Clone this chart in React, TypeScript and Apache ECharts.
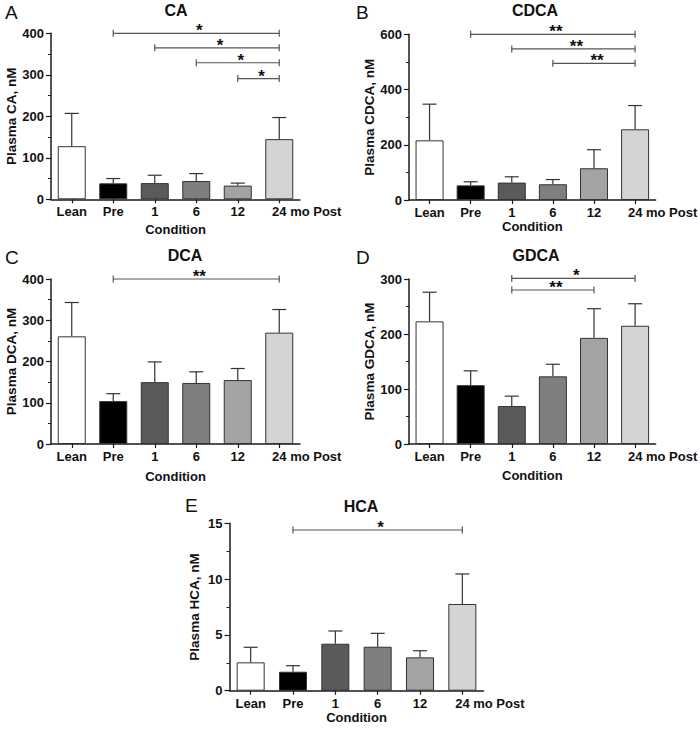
import React, { useEffect, useRef } from "react";
import * as echarts from "echarts";

const FONT = '"Liberation Sans", Arial, Helvetica, sans-serif';

const categories = ["Lean", "Pre", "1", "6", "12", "24 mo Post"];
const barColors = ["#ffffff", "#000000", "#5a5a5a", "#7f7f7f", "#a3a3a3", "#d4d4d4"];

// Means and upper error-bar ends (mean + SEM)
const caMean = [128, 38.5, 39, 44, 33, 145];
const caUpper = [207, 50, 58, 62, 39, 197];
const cdcaMean = [216, 53, 63, 57, 115, 256];
const cdcaUpper = [347, 66, 84, 74, 182, 342];
const dcaMean = [261, 104, 150, 148, 155, 270];
const dcaUpper = [343, 122, 199, 175, 183, 326];
const gdcaMean = [223, 107, 69, 123, 193, 215];
const gdcaUpper = [276, 133, 87, 145, 246, 255];
const hcaMean = [2.54, 1.7, 4.21, 3.94, 2.99, 7.77];
const hcaUpper = [3.89, 2.24, 5.35, 5.14, 3.58, 10.46];

// Significance brackets: [fromIndex, toIndex, yValue]
const caBrackets = [[1, 5, 400], [2, 5, 365], [3, 5, 329], [4, 5, 291]];
const caStars = ["*", "*", "*", "*"];
const cdcaBrackets = [[1, 5, 600], [2, 5, 547], [3, 5, 495]];
const cdcaStars = ["**", "**", "**"];
const dcaBrackets = [[1, 5, 400]];
const dcaStars = ["**"];
const gdcaBrackets = [[2, 5, 301], [2, 4, 280]];
const gdcaStars = ["*", "**"];
const hcaBrackets = [[1, 5, 14.4]];
const hcaStars = ["*"];

const panels = [
  { letter: "A", title: "CA", yName: "Plasma CA, nM", max: 400, interval: 100, mean: caMean, upper: caUpper, brackets: caBrackets, stars: caStars,
    grid: { left: 51, top: 33.3, width: 249, height: 166 }, letterPos: [5, 3], titlePos: [176, 10], yGap: 30, xGap: 24 },
  { letter: "B", title: "CDCA", yName: "Plasma CDCA, nM", max: 600, interval: 200, mean: cdcaMean, upper: cdcaUpper, brackets: cdcaBrackets, stars: cdcaStars,
    grid: { left: 409, top: 34.3, width: 250, height: 165.7 }, letterPos: [356, 3], titlePos: [535, 10], yGap: 28, xGap: 17 },
  { letter: "C", title: "DCA", yName: "Plasma DCA, nM", max: 400, interval: 100, mean: dcaMean, upper: dcaUpper, brackets: dcaBrackets, stars: dcaStars,
    grid: { left: 51, top: 279, width: 249, height: 165 }, letterPos: [5, 248], titlePos: [185, 255], yGap: 30, xGap: 26 },
  { letter: "D", title: "GDCA", yName: "Plasma GDCA, nM", max: 300, interval: 100, mean: gdcaMean, upper: gdcaUpper, brackets: gdcaBrackets, stars: gdcaStars,
    grid: { left: 409, top: 279, width: 250, height: 165 }, letterPos: [356, 248], titlePos: [536, 255], yGap: 28, xGap: 25 },
  { letter: "E", title: "HCA", yName: "Plasma HCA, nM", max: 15, interval: 5, mean: hcaMean, upper: hcaUpper, brackets: hcaBrackets, stars: hcaStars,
    grid: { left: 229.5, top: 523.3, width: 254, height: 167.4 }, letterPos: [185, 496], titlePos: [361, 506], yGap: 28, xGap: 17 },
];

const AXIS_COLOR = "#1a1a1a";
const TEXT_COLOR = "#111";

function buildOption() {
  const grid: any[] = [];
  const xAxis: any[] = [];
  const yAxis: any[] = [];
  const series: any[] = [];
  const graphic: any[] = [];

  panels.forEach((p, k) => {
    grid.push({ ...p.grid, containLabel: false });
    xAxis.push({
      type: "category",
      gridIndex: k,
      data: categories,
      name: "Condition",
      nameLocation: "middle",
      nameGap: p.xGap,
      nameTextStyle: { fontFamily: FONT, fontWeight: "bold", fontSize: 13, color: TEXT_COLOR },
      axisLine: { lineStyle: { color: AXIS_COLOR, width: 1.5 } },
      axisTick: { show: true, alignWithLabel: true, length: 4, lineStyle: { color: AXIS_COLOR, width: 1.2 } },
      axisLabel: {
        margin: 6,
        fontFamily: FONT,
        fontWeight: "bold",
        fontSize: 13,
        color: TEXT_COLOR,
        interval: 0,
        formatter: (v: string) => (v === "24 mo Post" ? "{p|24 mo Post}" : v),
        rich: { p: { padding: [0, 0, 0, 55], fontFamily: FONT, fontWeight: "bold", fontSize: 13, color: TEXT_COLOR } },
      },
      splitLine: { show: false },
    });
    yAxis.push({
      type: "value",
      gridIndex: k,
      min: 0,
      max: p.max,
      interval: p.interval,
      name: p.yName,
      nameLocation: "middle",
      nameGap: p.yGap,
      nameRotate: 90,
      nameTextStyle: { fontFamily: FONT, fontWeight: "bold", fontSize: 13.5, color: TEXT_COLOR },
      axisLine: { show: true, lineStyle: { color: AXIS_COLOR, width: 1.5 } },
      axisTick: { show: true, length: 5, lineStyle: { color: AXIS_COLOR, width: 1.2 } },
      minorTick: { show: true, splitNumber: 2, length: 3, lineStyle: { color: AXIS_COLOR, width: 1 } },
      axisLabel: { margin: 7, fontFamily: FONT, fontWeight: "bold", fontSize: 13, color: TEXT_COLOR },
      splitLine: { show: false },
    });
    series.push({
      type: "bar",
      xAxisIndex: k,
      yAxisIndex: k,
      barWidth: 28,
      data: p.mean.map((v, i) => ({
        value: v,
        itemStyle: { color: barColors[i], borderColor: "#333", borderWidth: 1 },
      })),
      z: 2,
    });
    series.push({
      type: "custom",
      xAxisIndex: k,
      yAxisIndex: k,
      data: p.mean.map((v, i) => [i, v, p.upper[i]]),
      encode: { x: 0, y: 2 },
      z: 3,
      renderItem: (params: any, api: any) => {
        const i = api.value(0);
        const base = api.coord([i, api.value(1)]);
        const top = api.coord([i, api.value(2)]);
        const st = { stroke: "#333", lineWidth: 1.2 };
        return {
          type: "group",
          children: [
            { type: "line", shape: { x1: base[0], y1: base[1], x2: top[0], y2: top[1] }, style: st },
            { type: "line", shape: { x1: top[0] - 7, y1: top[1], x2: top[0] + 7, y2: top[1] }, style: st },
          ],
        };
      },
    });
    series.push({
      type: "custom",
      xAxisIndex: k,
      yAxisIndex: k,
      clip: false,
      data: p.brackets.map((b) => [b[0], b[1], b[2]]),
      encode: { x: [0, 1], y: 2 },
      z: 4,
      renderItem: (params: any, api: any) => {
        const a = api.coord([api.value(0), api.value(2)]);
        const b = api.coord([api.value(1), api.value(2)]);
        const st = { stroke: "#555", lineWidth: 1.2 };
        const label = p.stars[params.dataIndex];
        return {
          type: "group",
          children: [
            { type: "line", shape: { x1: a[0], y1: a[1], x2: b[0], y2: b[1] }, style: st },
            { type: "line", shape: { x1: a[0], y1: a[1] - 3.5, x2: a[0], y2: a[1] + 3.5 }, style: st },
            { type: "line", shape: { x1: b[0], y1: b[1] - 3.5, x2: b[0], y2: b[1] + 3.5 }, style: st },
            {
              type: "text",
              x: (a[0] + b[0]) / 2 + 3,
              y: a[1] - 2.5,
              style: {
                text: label,
                fontFamily: FONT,
                fontWeight: "bold",
                fontSize: 17,
                fill: "#111",
                textAlign: "center",
                textVerticalAlign: "middle",
              },
            },
          ],
        };
      },
    });
    graphic.push({
      type: "text",
      left: p.letterPos[0],
      top: p.letterPos[1],
      style: { text: p.letter, fontFamily: FONT, fontSize: 19, fill: "#111" },
    });
    graphic.push({
      type: "text",
      x: p.titlePos[0],
      y: p.titlePos[1],
      style: {
        text: p.title,
        fontFamily: FONT,
        fontWeight: "bold",
        fontSize: 16,
        fill: "#111",
        textAlign: "center",
        textVerticalAlign: "middle",
      },
    });
  });

  return {
    animation: false,
    backgroundColor: "#ffffff",
    grid,
    xAxis,
    yAxis,
    series,
    graphic,
  };
}

export default function App() {
  const ref = useRef<HTMLDivElement>(null);
  useEffect(() => {
    if (!ref.current) return;
    const chart = echarts.init(ref.current, undefined, { renderer: "svg" });
    chart.setOption(buildOption() as any);
    return () => chart.dispose();
  }, []);
  return (
    <div
      ref={ref}
      style={{ position: "fixed", left: 0, top: 0, width: 700, height: 730, background: "#fff" }}
    />
  );
}
